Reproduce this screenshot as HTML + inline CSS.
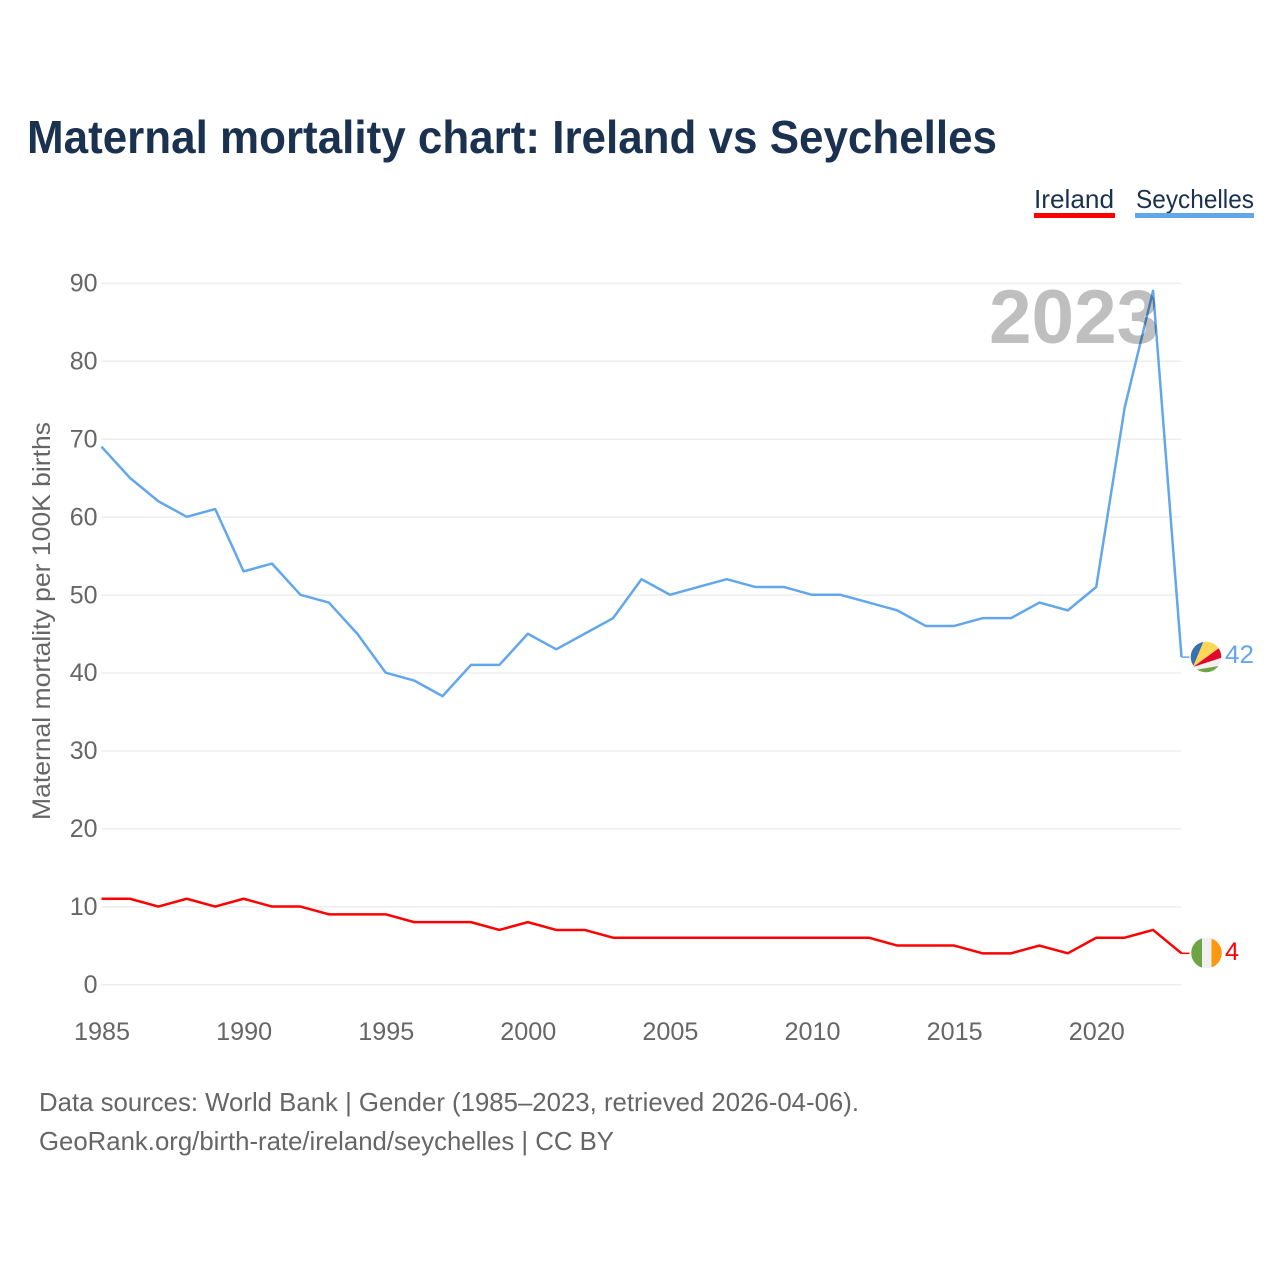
<!DOCTYPE html>
<html lang="en">
<head>
<meta charset="utf-8">
<title>Maternal mortality chart: Ireland vs Seychelles</title>
<style>
html,body{margin:0;padding:0;background:#fff;width:1280px;height:1280px;overflow:hidden}
svg{display:block;font-family:"Liberation Sans",sans-serif}
</style>
</head>
<body>
<svg id="chart" xmlns="http://www.w3.org/2000/svg" width="1280" height="1280" viewBox="0 0 1280 1280">
  <defs>
    <clipPath id="flag-clip-sc"><circle cx="1206" cy="657" r="15.3"/></clipPath>
    <clipPath id="flag-clip-ie"><circle cx="1206.5" cy="953" r="15.3"/></clipPath>
  </defs>
  <rect width="1280" height="1280" fill="#fff"/>
  <text x="27" y="153" font-size="46" font-weight="700" fill="#1a3150" textLength="970" lengthAdjust="spacingAndGlyphs">Maternal mortality chart: Ireland vs Seychelles</text>

  <g>
    <g>
      <text x="1034" y="208" font-size="26" fill="#1a3150" textLength="80" lengthAdjust="spacingAndGlyphs">Ireland</text>
      <rect x="1034" y="213" width="81" height="5" fill="#ff0000"/>
    </g>
    <g>
      <text x="1136" y="208" font-size="26" fill="#1a3150" textLength="118" lengthAdjust="spacingAndGlyphs">Seychelles</text>
      <rect x="1135" y="213" width="119" height="5" fill="#62a7ec"/>
    </g>
  </g>

  <g id="grid"></g>
  <g id="y-ticks"></g>
  <g id="x-ticks"></g>
  <text transform="translate(50,621) rotate(-90)" text-anchor="middle" font-size="25" fill="#666" textLength="398" lengthAdjust="spacingAndGlyphs">Maternal mortality per 100K births</text>

  <g id="series"></g>

  <text x="989" y="343" font-size="76.5" font-weight="700" fill="#000" fill-opacity="0.25">2023</text>

  <g clip-path="url(#flag-clip-sc)">
    <rect x="1185" y="635" width="45" height="45" fill="#f0f0f0"/>
    <polygon points="1193,667 1185,667 1185,630 1208,631" fill="#3a6fb0"/>
    <polygon points="1193,667 1208,631 1230,631 1230,640" fill="#fcd856"/>
    <polygon points="1193,667 1230,640 1230,655" fill="#e0082d"/>
    <polygon points="1195,670 1230,664 1230,680 1190,680" fill="#6da544"/>
  </g>
  <text id="label-sc" x="1225" y="663" font-size="25" fill="#62a7ec" textLength="29" lengthAdjust="spacingAndGlyphs"></text>

  <g clip-path="url(#flag-clip-ie)">
    <rect x="1190" y="936" width="12" height="34" fill="#6da544"/>
    <rect x="1202" y="936" width="9.5" height="34" fill="#f0f0f0"/>
    <rect x="1211.5" y="936" width="12" height="34" fill="#ff9811"/>
  </g>
  <text id="label-ie" x="1225" y="960" font-size="25" fill="#ff0000" textLength="14" lengthAdjust="spacingAndGlyphs"></text>

  <text x="39" y="1111" font-size="26" fill="#666" textLength="820" lengthAdjust="spacingAndGlyphs">Data sources: World Bank | Gender (1985–2023, retrieved 2026-04-06).</text>
  <text x="39" y="1150" font-size="26" fill="#666" textLength="575" lengthAdjust="spacingAndGlyphs">GeoRank.org/birth-rate/ireland/seychelles | CC BY</text>
</svg>
<script>
const years = [1985,1986,1987,1988,1989,1990,1991,1992,1993,1994,1995,1996,1997,1998,1999,2000,2001,2002,2003,2004,2005,2006,2007,2008,2009,2010,2011,2012,2013,2014,2015,2016,2017,2018,2019,2020,2021,2022,2023];
const ireland = [11,11,10,11,10,11,10,10,9,9,9,8,8,8,7,8,7,7,6,6,6,6,6,6,6,6,6,6,5,5,5,4,4,5,4,6,6,7,4];
const seychelles = [69,65,62,60,61,53,54,50,49,45,40,39,37,41,41,45,43,45,47,52,50,51,52,51,51,50,50,49,48,46,46,47,47,49,48,51,74,89,42];
const yTickValues = [0,10,20,30,40,50,60,70,80,90];
const xTickValues = [1985,1990,1995,2000,2005,2010,2015,2020];

const NS = 'http://www.w3.org/2000/svg';
const plotLeft = 101.5, plotRight = 1181.5, plotBottom = 984.5, plotTop = 283;
const xMin = years[0], xMax = years[years.length - 1];
const xScale = v => plotLeft + (v - xMin) / (xMax - xMin) * (plotRight - plotLeft);
const yScale = v => plotBottom - v / 90 * (plotBottom - plotTop);

function make(tag, attrs, parent) {
  const el = document.createElementNS(NS, tag);
  for (const k in attrs) el.setAttribute(k, attrs[k]);
  parent.appendChild(el);
  return el;
}

const gridG = document.getElementById('grid');
const yG = document.getElementById('y-ticks');
yTickValues.forEach(v => {
  const line = make('line', {x1: plotLeft, x2: plotRight - 0.5, y1: yScale(v) + 0.3, y2: yScale(v) + 0.3, stroke: '#eeeeee', 'stroke-width': 1.5}, gridG);
  
  
  const t = make('text', {x: 97.5, y: yScale(v) + 8.5, 'text-anchor': 'end', 'font-size': 25, fill: '#666'}, yG);
  
  
  t.textContent = v;
});

const xG = document.getElementById('x-ticks');
xTickValues.forEach(v => {
  const t = make('text', {x: xScale(v) + 0.5, y: 1040, 'text-anchor': 'middle', 'font-size': 25, fill: '#666', textLength: 56, lengthAdjust: 'spacingAndGlyphs'}, xG);
  
  
  t.textContent = v;
});

const seriesG = document.getElementById('series');
function drawSeries(values, color, name) {
  const pts = values.map((v, i) => xScale(years[i]).toFixed(2) + ',' + yScale(v).toFixed(2));
  const p = make('polyline', {points: pts.join(' '), fill: 'none', stroke: color, 'stroke-width': 2.5, 'stroke-linejoin': 'round'}, seriesG);
  
  
  const last = values[values.length - 1];
  const stub = make('line', {x1: xScale(xMax), x2: xScale(xMax) + 8, y1: yScale(last), y2: yScale(last), stroke: color, 'stroke-width': 1.5}, seriesG);
  
  
}
drawSeries(ireland, '#ff0000', 'line-ireland');
drawSeries(seychelles, '#62a7ec', 'line-seychelles');

document.getElementById('label-sc').textContent = seychelles[seychelles.length - 1];
document.getElementById('label-ie').textContent = ireland[ireland.length - 1];
</script>
</body>
</html>
